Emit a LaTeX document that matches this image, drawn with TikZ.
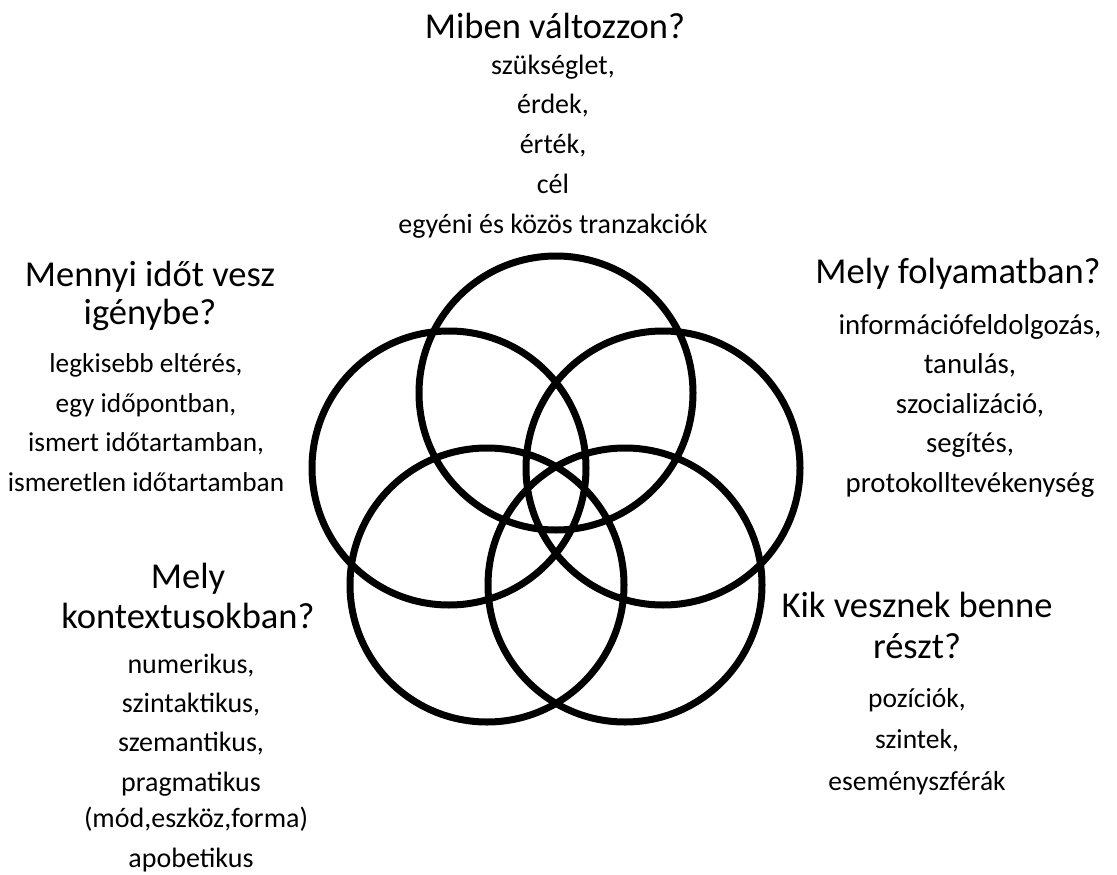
\documentclass[tikz,border=0pt]{standalone}
\usepackage{fontspec}
\setmainfont{Carlito}
\tikzset{
  ring/.style={circle, draw=black, line width=7pt, minimum size=274pt, inner sep=0pt},
  qtext/.style={anchor=base, align=center, inner sep=0pt},
}
\newcommand{\tsz}[1]{\fontsize{36.5}{#1}\selectfont}
\newcommand{\bsz}[2]{\fontsize{#1}{#2}\selectfont}
\begin{document}
\begin{tikzpicture}[x=1pt,y=-1pt]
\useasboundingbox (0,0) rectangle (1117,875);
% circles
\node[ring] (ctop) at (556,393) {};
\node[ring] (cleft) at (449,468) {};
\node[ring] (cright) at (663,468) {};
\node[ring] (cbl) at (487,585) {};
\node[ring] (cbr) at (625,585) {};
% top block (anchor = baseline of last line)
\node[qtext, font=\tsz{40}] (t1) at (555,39) {Miben változzon?};
\node[qtext, font=\bsz{28}{39.7}] (b1) at (553,233) {szükséglet,\\ érdek,\\ érték,\\ cél\\ egyéni és közös tranzakciók};
% left block
\node[qtext, font=\tsz{38}] (t2) at (150,324) {Mennyi időt vesz\\ igénybe?};
\node[qtext, font=\bsz{27.3}{39.5}] (b2) at (146,491) {legkisebb eltérés,\\ egy időpontban,\\ ismert időtartamban,\\ ismeretlen időtartamban};
% right block
\node[qtext, font=\tsz{40}] (t3) at (958,283) {Mely folyamatban?};
\node[qtext, font=\bsz{28.8}{39.5}] (b3) at (970,492) {információfeldolgozás,\\ tanulás,\\ szocializáció,\\ segítés,\\ protokolltevékenység};
% bottom-left block
\node[qtext, font=\tsz{40}] (t4) at (188,628) {Mely\\ kontextusokban?};
\node[qtext, font=\bsz{28}{39.4}] (b4) at (191,867) {numerikus,\\ szintaktikus,\\ szemantikus,\\ pragmatikus\\[-3pt] \hspace*{10pt}(mód,eszköz,forma)\\ apobetikus};
% bottom-right block
\node[qtext, font=\tsz{41}] (t5) at (917,658) {Kik vesznek benne\\ részt?};
\node[qtext, font=\bsz{27.5}{41.5}] (b5) at (917,790) {pozíciók,\\ szintek,\\ eseményszférák};
\end{tikzpicture}
\end{document}
